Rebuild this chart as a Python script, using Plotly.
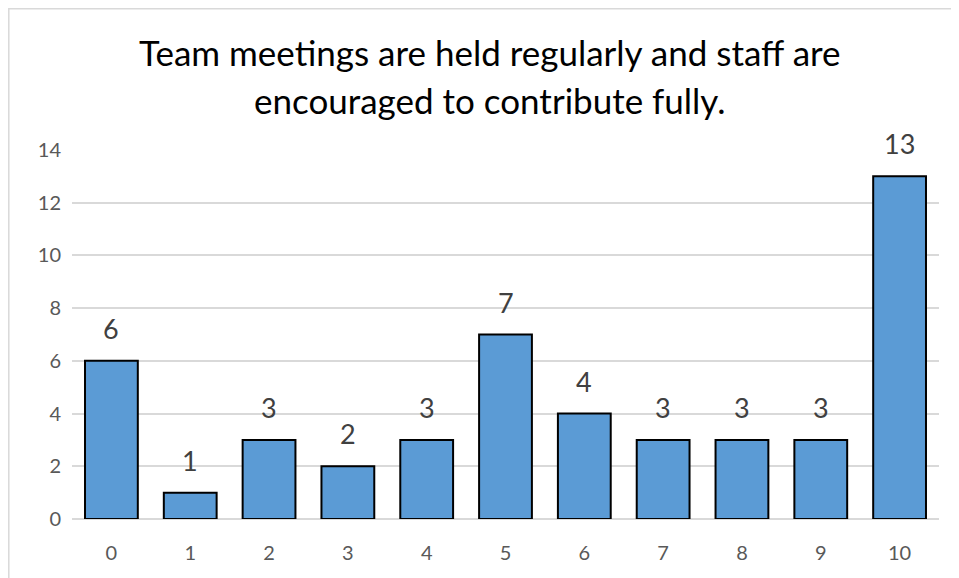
import plotly.graph_objects as go

categories = ["0", "1", "2", "3", "4", "5", "6", "7", "8", "9", "10"]
counts = [6, 1, 3, 2, 3, 7, 4, 3, 3, 3, 13]
y_ticks = [0, 2, 4, 6, 8, 10, 12, 14]
title_lines = ["Team meetings are held regularly and staff are",
               "encouraged to contribute fully."]

FONT = "Lato, Carlito, Calibri, sans-serif"

fig = go.Figure()
fig.add_trace(go.Bar(
    x=categories, y=counts,
    marker=dict(color="#5B9BD5", line=dict(color="#000000", width=2)),
    width=0.67,
    hoverinfo="skip",
))

for c, v in zip(categories, counts):
    fig.add_annotation(x=c, y=v, text=str(v), showarrow=False,
                       yanchor="bottom", yshift=14,
                       font=dict(family=FONT, size=27, color="#404040"))

# title lines
for line, ypos in zip(title_lines, [1.2656, 1.1355]):
    fig.add_annotation(xref="paper", yref="paper", x=0.482, y=ypos,
                       xanchor="center", yanchor="middle", showarrow=False,
                       text=line, font=dict(family=FONT, size=35, color="#000000"))

# chart border (partly outside picture)
fig.add_shape(type="rect", xref="paper", yref="paper",
              x0=-0.0729, x1=1.06, y0=-0.25, y1=1.3828,
              line=dict(color="#D9D9D9", width=1.5), layer="below")

fig.update_layout(
    width=959, height=578,
    margin=dict(l=64, r=28, t=142, b=67, autoexpand=False),
    paper_bgcolor="white", plot_bgcolor="white",
    showlegend=False,
    bargap=0.33,
    xaxis=dict(type="category", showgrid=False, showline=False, ticks="",
               automargin=False,
               tickfont=dict(family=FONT, size=20, color="#595959"),
               ticklabelstandoff=20),
    yaxis=dict(range=[0, 14], tickvals=y_ticks, showgrid=True,
               automargin=False,
               gridcolor="#D9D9D9", gridwidth=1.5, zeroline=True,
               zerolinecolor="#D9D9D9", zerolinewidth=1.5, showline=False,
               ticks="", tickfont=dict(family=FONT, size=20, color="#595959"),
               ticklabelstandoff=10),
)

fig.write_html("out.html")
